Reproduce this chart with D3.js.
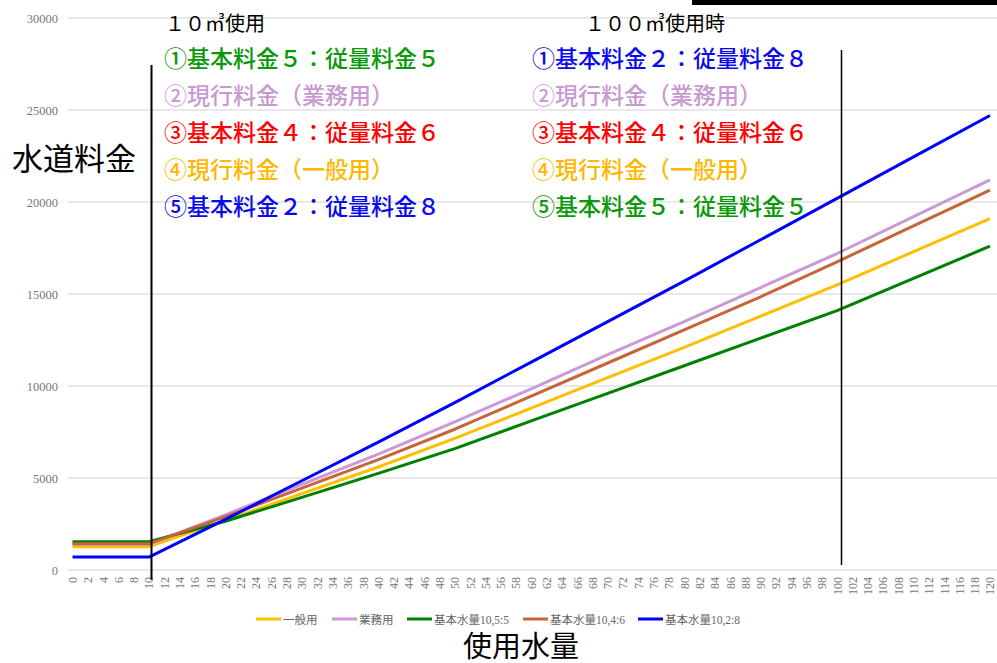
<!DOCTYPE html>
<html lang="ja">
<head>
<meta charset="utf-8">
<script src="https://cdn.jsdelivr.net/npm/d3@7"></script>
<style>
  html, body { margin: 0; padding: 0; background: #fff; }
  svg { display: block; }
</style>
</head>
<body>
<svg id="chart" width="997" height="663"></svg>
<script>
// Water usage (m³) at which each charge is plotted
const usage = [0, 10, 20, 30, 40, 50, 60, 70, 80, 90, 100, 110, 120];

// Water charge (yen) per series
const general  = [1270, 1270, 2700, 4150, 5600, 7150, 8800, 10450, 12100, 13800, 15500, 17300, 19100];   // 一般用
const business = [1400, 1400, 3000, 4650, 6300, 8050, 9850, 11700, 13500, 15350, 17200, 19200, 21200];   // 業務用
const plan55   = [1540, 1540, 2650, 3950, 5250, 6600, 8100, 9600, 11100, 12600, 14100, 15850, 17600];    // 基本水量10,5:5
const plan46   = [1430, 1430, 2900, 4450, 6000, 7650, 9450, 11250, 13050, 14850, 16750, 18700, 20650];   // 基本水量10,4:6
const plan28   = [700, 700, 2750, 4850, 6950, 9100, 11300, 13500, 15700, 17950, 20200, 22450, 24700];     // 基本水量10,2:8

const seriesNames  = ["一般用", "業務用", "基本水量10,5:5", "基本水量10,4:6", "基本水量10,2:8"];
const seriesColors = ["#ffbf00", "#cc99d6", "#008000", "#c8643a", "#0000ff"];
const seriesValues = [general, business, plan55, plan46, plan28];

// Category axis: every cubic metre from 0 to 120, labelled every 2
const categories = d3.range(0, 121);
const xTickValues = categories.filter(d => d % 2 === 0);
const yTickValues = [0, 5000, 10000, 15000, 20000, 25000, 30000];

// Notes about the rate plans
const leftTitle  = "１０㎥使用";
const rightTitle = "１００㎥使用時";
const leftNotes = [
  { text: "①基本料金５：従量料金５", color: "#089808" },
  { text: "②現行料金（業務用）",     color: "#c999d3" },
  { text: "③基本料金４：従量料金６", color: "#ff0000" },
  { text: "④現行料金（一般用）",     color: "#ffb800" },
  { text: "⑤基本料金２：従量料金８", color: "#0a0aee" }
];
const rightNotes = [
  { text: "①基本料金２：従量料金８", color: "#0a0aee" },
  { text: "②現行料金（業務用）",     color: "#c999d3" },
  { text: "③基本料金４：従量料金６", color: "#ff0000" },
  { text: "④現行料金（一般用）",     color: "#ffb800" },
  { text: "⑤基本料金５：従量料金５", color: "#089808" }
];

const svg = d3.select("#chart");
const W = 997;

const x = d3.scaleLinear().domain([0, 120]).range([72.5, 990]);
const y = d3.scaleLinear().domain([0, 30000]).range([570, 18]);

const numFont = "'Liberation Serif', 'DejaVu Serif', serif";
const jpFont = "'Noto Sans CJK JP', 'Noto Sans', sans-serif";

// Horizontal gridlines
svg.append("g")
  .selectAll("line")
  .data(yTickValues)
  .join("line")
  .attr("x1", 68).attr("x2", W)
  .attr("y1", d => y(d)).attr("y2", d => y(d))
  .attr("stroke", "#e2e2e2")
  .attr("stroke-width", 1.5);

// Y axis labels
const yAxis = d3.axisLeft(y).tickValues(yTickValues).tickSize(0).tickPadding(0).tickFormat(d3.format("d"));
svg.append("g")
  .attr("transform", "translate(58,0)")
  .call(yAxis)
  .call(g => g.select(".domain").remove())
  .selectAll("text")
  .attr("font-family", numFont)
  .attr("font-size", 12.5)
  .attr("fill", "#777");

// X axis labels, rotated
const xAxis = d3.axisBottom(x).tickValues(xTickValues).tickSize(0).tickPadding(0).tickFormat(d3.format("d"));
svg.append("g")
  .attr("transform", "translate(0,577)")
  .call(xAxis)
  .call(g => g.select(".domain").remove())
  .selectAll("text")
  .attr("font-family", numFont)
  .attr("font-size", 12)
  .attr("fill", "#777")
  .attr("text-anchor", "end")
  .attr("dy", "0.33em")
  .attr("dx", 0)
  .attr("y", 0)
  .attr("transform", "rotate(-90)");

// Series lines
const line = d3.line()
  .x((d, i) => x(usage[i]))
  .y(d => y(d));

svg.append("g")
  .selectAll("path")
  .data(seriesValues)
  .join("path")
  .attr("d", d => line(d))
  .attr("fill", "none")
  .attr("stroke", (d, i) => seriesColors[i])
  .attr("stroke-width", 3)
  .attr("stroke-linejoin", "round");

// Marker lines at 10 m³ and 100 m³
svg.append("line")
  .attr("x1", 151.5).attr("x2", 151.5).attr("y1", 65).attr("y2", 580)
  .attr("stroke", "#000").attr("stroke-width", 2);
svg.append("line")
  .attr("x1", 841.5).attr("x2", 841.5).attr("y1", 50).attr("y2", 565)
  .attr("stroke", "#000").attr("stroke-width", 1.5);

// Bar along the top edge
svg.append("rect")
  .attr("x", 692).attr("y", 0).attr("width", W - 692).attr("height", 5)
  .attr("fill", "#000");

// Legend
const legendX = [256, 332, 407, 523, 638];
const legend = svg.append("g")
  .selectAll("g")
  .data(seriesNames)
  .join("g")
  .attr("transform", (d, i) => `translate(${legendX[i]},619)`);
legend.append("line")
  .attr("x1", 0).attr("x2", 25).attr("y1", 0).attr("y2", 0)
  .attr("stroke", (d, i) => seriesColors[i])
  .attr("stroke-width", 3);
legend.append("text")
  .attr("x", 27).attr("y", 4.5)
  .attr("font-family", "'Liberation Serif', 'Noto Sans CJK JP', serif")
  .attr("font-size", 11.5)
  .attr("fill", "#666")
  .text(d => d);

// Axis titles
svg.append("text")
  .attr("x", 12).attr("y", 170)
  .attr("font-family", jpFont)
  .attr("font-size", 31)
  .attr("fill", "#000")
  .text("水道料金");
svg.append("text")
  .attr("x", 463).attr("y", 657)
  .attr("font-family", jpFont)
  .attr("font-size", 29)
  .attr("fill", "#000")
  .text("使用水量");

// Plan notes
function notes(x0, titleX, title, rows) {
  svg.append("text")
    .attr("x", titleX).attr("y", 31)
    .attr("font-family", jpFont)
    .attr("font-size", 20)
    .attr("fill", "#000")
    .text(title);
  svg.append("g")
    .selectAll("text")
    .data(rows)
    .join("text")
    .attr("x", x0)
    .attr("y", (d, i) => 67 + i * 37)
    .attr("font-family", jpFont)
    .attr("font-size", 23)
    .attr("font-weight", 500)
    .attr("fill", d => d.color)
    .text(d => d.text);
}
notes(164, 165, leftTitle, leftNotes);
notes(532, 585, rightTitle, rightNotes);
</script>
</body>
</html>
